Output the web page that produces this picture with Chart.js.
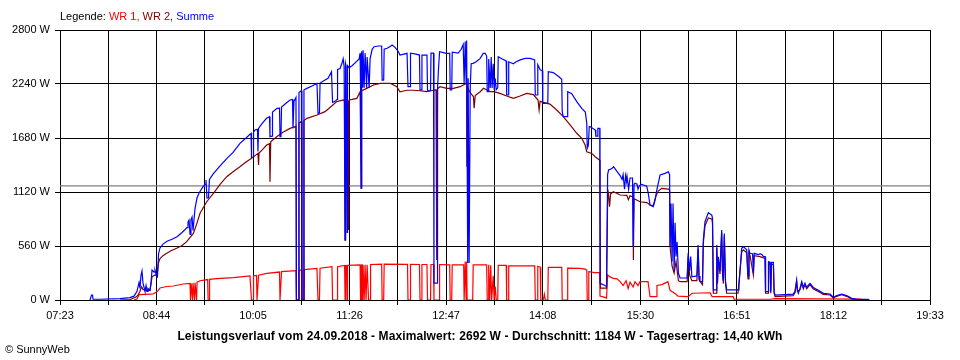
<!DOCTYPE html>
<html>
<head>
<meta charset="utf-8">
<script src="https://cdn.jsdelivr.net/npm/chart.js@4.4.0/dist/chart.umd.min.js"></script>
<style>
  body { margin: 0; background: #fff; }
  #wrap { position: relative; width: 960px; height: 360px; font-family: "Liberation Sans", Arial, sans-serif; font-size: 11px; color: #000; }
  #chart { position: absolute; left: 0; top: 0; }
  #legend { position: absolute; left: 60px; top: 10px; line-height: 13px; }
  #title { position: absolute; left: 0; width: 960px; top: 329px; text-align: center; font-weight: bold; font-size: 12px; letter-spacing: 0.09px; line-height: 14px; }
  #copy { position: absolute; left: 5px; top: 343px; line-height: 13px; }
</style>
</head>
<body>
<div id="wrap">
  <canvas id="chart" width="960" height="360"></canvas>
  <div id="legend">Legende: <span style="color:#ff0000">WR 1,</span> <span style="color:#800000">WR 2,</span> <span style="color:#0000ff">Summe</span></div>
  <div id="title">Leistungsverlauf vom 24.09.2018 - Maximalwert: 2692 W - Durchschnitt: 1184 W - Tagesertrag: 14,40 kWh</div>
  <div id="copy">© SunnyWeb</div>
</div>
<script>
// time = minutes since midnight, value = watts
const xLabels = ['07:23', '08:44', '10:05', '11:26', '12:47', '14:08', '15:30', '16:51', '18:12', '19:33']
const yTicks = [0, 560, 1120, 1680, 2240, 2800]
const avgWatt = 1184

const summe = [[468.2,0],[469.4,50],[470.3,50],[470.7,8],[476.6,8],[493.3,14],[501.7,25],[505.1,40],[507.6,90],[509.3,180],[510.1,120],[510.9,250],[511.8,300],[512.6,180],[513.5,130],[514.3,90],[515.2,150],[516.0,90],[516.8,120],[518.5,100],[519.4,180],[520.2,310],[521.9,290],[522.7,310],[524.0,250],[524.8,240],[525.7,480],[526.9,540],[529.4,580],[532.8,610],[537.0,630],[541.2,656],[545.4,700],[549.6,750],[550.4,810],[551.3,830],[552.1,680],[552.9,830],[553.8,860],[554.6,720],[556.3,950],[558.0,1060],[559.7,1110],[563.0,1175],[564.7,1200],[565.5,1245],[566.3,1058],[567.6,1060],[568.4,1250],[571.4,1306],[577.3,1390],[583.1,1469],[588.2,1530],[594.0,1625],[599.1,1680],[603.3,1728],[603.7,1480],[605.0,1480],[605.4,1740],[606.6,1763],[608.7,1770],[609.1,1540],[609.6,1780],[612.5,1830],[616.3,1884],[618.8,1900],[619.2,1694],[620.9,1700],[621.3,1950],[625.1,1988],[627.2,1990],[627.6,1694],[628.4,1700],[628.9,2000],[632.6,2040],[636.0,2074],[638.1,2080],[638.5,1780],[639.3,2060],[641.0,2100],[641.4,0],[643.1,0],[643.5,2150],[644.4,2160],[645.6,2170],[646.0,0],[647.3,0],[647.7,2180],[650.2,2195],[654.4,2220],[658.6,2246],[659.5,1936],[660.7,1940],[661.2,2250],[665.4,2281],[667.9,2300],[670.8,2368],[671.7,2050],[673.8,2060],[675.5,2080],[675.9,2390],[678.0,2400],[679.7,2460],[680.6,2500],[681.4,2420],[682.2,620],[682.6,2450],[683.1,2420],[683.9,700],[684.3,2430],[685.6,2410],[688.1,2430],[691.5,2470],[694.0,2500],[694.8,2560],[695.2,2190],[695.7,1160],[696.1,2580],[696.9,2200],[697.3,2590],[698.2,2200],[699.0,2560],[700.3,2200],[700.7,2520],[702.4,2200],[703.2,2500],[704.9,2600],[706.6,2627],[710.0,2634],[712.9,2634],[713.3,2280],[714.6,2280],[715.0,2600],[717.5,2610],[720.0,2630],[721.7,2644],[724.1,2620],[726.7,2580],[728.3,2540],[731.6,2550],[734.2,2558],[735.0,2212],[736.7,2212],[737.1,2560],[741.7,2550],[744.6,2540],[745.1,2180],[746.3,2180],[746.7,2540],[750.9,2540],[751.4,2170],[753.9,2170],[754.3,2560],[756.4,2560],[756.8,176],[759.4,176],[759.8,2190],[760.6,2400],[761.5,2575],[767.0,2558],[770.0,2558],[770.4,2180],[771.7,2180],[772.1,2570],[777.1,2560],[779.6,2600],[781.3,2650],[782.1,2250],[783.0,2680],[783.8,2250],[784.2,2692],[785.1,383],[785.5,2300],[786.3,383],[787.2,2200],[788.0,2450],[789.7,2454],[792.2,2470],[795.6,2506],[798.1,2558],[799.8,2558],[801.0,2530],[801.5,2160],[802.3,2160],[802.7,2500],[804.0,2200],[804.8,2520],[805.6,2200],[806.5,2450],[807.3,2180],[808.2,2300],[809.0,2180],[810.3,2200],[810.7,2523],[814.1,2500],[817.4,2480],[817.8,2126],[819.1,2126],[819.5,2470],[823.3,2450],[825.8,2470],[829.2,2490],[833.4,2506],[837.6,2506],[841.3,2490],[841.8,2126],[843.4,2126],[843.9,2440],[846.0,2385],[847.7,2380],[848.1,2040],[852.3,2040],[852.7,2368],[856.9,2358],[861.1,2320],[864.0,2288],[864.4,1953],[865.3,1901],[868.6,1901],[869.0,2160],[872.4,2140],[876.6,2057],[880.8,1988],[883.8,1950],[885.0,1832],[885.4,1573],[886.3,1600],[887.1,1800],[888.0,1797],[892.2,1763],[892.6,1700],[893.8,1700],[894.3,1780],[895.9,1780],[896.1,173],[898.7,160],[901.6,140],[902.5,1300],[903.3,1348],[905.8,1360],[907.5,1382],[910.0,1340],[913.0,1290],[914.6,1250],[915.5,1300],[916.7,1150],[917.6,1290],[918.4,1230],[918.8,1280],[920.1,1150],[921.3,1265],[923.4,1265],[923.9,553],[924.7,1200],[925.5,1210],[927.2,1200],[928.0,1150],[928.9,1180],[930.5,1200],[932.5,1193],[935.3,1180],[936.4,1120],[938.1,985],[940.8,968],[942.3,1037],[943.9,1150],[945.0,1210],[946.5,1296],[950.6,1313],[953.4,1330],[954.5,1300],[954.9,553],[955.7,1000],[956.6,400],[957.4,1000],[958.3,300],[959.1,800],[959.9,450],[960.8,600],[961.9,277],[963.3,228],[969.2,228],[970.1,487],[971.3,300],[972.2,450],[973.2,240],[977.4,250],[978.4,570],[979.2,250],[980.0,190],[982.1,190],[982.8,622],[984.2,812],[987.0,906],[989.9,880],[990.5,850],[991.2,104],[993.5,104],[994.1,570],[994.7,200],[995.4,449],[996.8,300],[998.2,726],[998.9,300],[999.6,200],[1000.4,690],[1001.4,200],[1002.4,104],[1011.9,104],[1012.7,150],[1015.0,536],[1016.4,553],[1019.2,520],[1020.3,250],[1021.1,520],[1022.0,484],[1024.1,480],[1024.8,280],[1025.5,484],[1029.0,470],[1030.4,480],[1032.1,470],[1033.2,450],[1034.6,450],[1035.0,86],[1037.1,86],[1037.5,397],[1038.8,390],[1039.4,86],[1040.0,390],[1041.6,390],[1042.2,86],[1043.0,50],[1051.4,55],[1058.1,60],[1059.7,86],[1061.1,207],[1061.8,100],[1062.5,70],[1063.9,120],[1065.4,190],[1066.7,130],[1068.1,175],[1069.5,130],[1070.6,150],[1072.3,173],[1075.1,130],[1079.3,100],[1083.5,69],[1089.1,62],[1091.9,28],[1094.7,45],[1098.9,62],[1103.1,45],[1107.3,17],[1111.5,7],[1121.2,7],[1121.8,0]]

const wr2 = [[493.3,0],[501.7,5],[506.8,30],[508.4,50],[510.1,90],[511.5,138],[512.6,110],[515.2,95],[518.5,100],[520.2,240],[522.7,260],[524.4,250],[525.5,380],[526.9,430],[529.4,460],[532.5,484],[536.2,510],[540.9,536],[545.4,565],[549.3,605],[554.9,690],[558.0,800],[560.5,900],[566.1,1019],[571.7,1106],[577.3,1200],[582.9,1279],[588.2,1330],[594.0,1382],[599.1,1430],[603.8,1469],[609.1,1521],[609.6,1400],[610.0,1525],[612.9,1560],[616.4,1607],[618.8,1620],[619.2,1227],[619.8,1640],[624.8,1693],[630.1,1740],[636.0,1780],[641.0,1800],[641.4,0],[643.1,0],[643.5,1840],[645.6,1850],[646.0,0],[647.3,0],[647.7,1860],[650.2,1884],[658.6,1918],[665.4,1953],[671.0,2012],[675.2,2057],[680.8,2074],[681.8,2060],[682.2,622],[682.6,2070],[684.7,2060],[685.0,726],[685.6,2074],[688.1,2080],[692.1,2091],[694.8,2160],[695.7,1160],[696.1,2170],[700.4,2195],[706.0,2230],[711.6,2247],[720.0,2247],[725.6,2212],[728.3,2160],[734.0,2175],[739.5,2175],[745.1,2170],[750.7,2160],[756.3,2175],[758.5,2180],[759.1,415],[759.8,2190],[761.9,2212],[767.5,2195],[773.1,2195],[778.7,2212],[784.2,2247],[784.4,1382],[785.1,2200],[787.2,2150],[789.9,2108],[790.5,1990],[791.4,2120],[795.6,2160],[798.4,2195],[804.0,2160],[806.8,2160],[812.2,2143],[817.8,2115],[823.4,2091],[829.0,2115],[834.6,2143],[840.2,2130],[844.1,2074],[845.0,1970],[845.8,2060],[848.6,2050],[854.1,2032],[859.8,1970],[865.3,1901],[871.0,1815],[876.6,1729],[880.8,1677],[883.6,1607],[885.0,1538],[889.2,1520],[892.0,1486],[894.8,1460],[895.9,1450],[896.1,1244],[896.5,124],[901.6,124],[902.5,1050],[903.2,1106],[904.1,968],[905.0,1100],[907.3,1123],[913.0,1089],[918.6,1085],[919.9,1040],[921.3,1080],[923.9,1070],[924.1,415],[924.7,1050],[929.7,1019],[935.3,1010],[938.1,985],[940.8,980],[943.1,1080],[945.0,1130],[947.9,1158],[953.4,1150],[954.5,1140],[954.9,550],[956.6,350],[958.3,280],[959.9,400],[961.9,200],[963.3,190],[969.2,190],[970.1,450],[971.3,260],[973.2,200],[977.4,200],[978.4,530],[979.2,210],[982.1,160],[982.8,590],[984.2,770],[987.0,850],[989.9,840],[990.5,800],[991.2,70],[993.5,70],[994.1,540],[994.7,170],[995.4,420],[996.8,270],[998.2,700],[998.9,270],[999.6,170],[1000.4,660],[1001.4,170],[1002.4,70],[1011.9,70],[1015.0,500],[1016.4,520],[1019.2,490],[1020.3,220],[1021.1,490],[1022.0,460],[1024.8,260],[1025.5,460],[1030.4,450],[1034.6,430],[1035.0,70],[1037.1,70],[1037.5,380],[1038.8,370],[1039.4,70],[1040.0,370],[1041.6,370],[1042.2,70],[1043.0,35],[1058.1,45],[1059.7,75],[1061.1,190],[1061.8,90],[1063.9,105],[1065.4,175],[1066.7,115],[1068.1,160],[1069.5,115],[1072.3,160],[1075.1,115],[1079.3,88],[1083.5,58],[1089.1,52],[1091.9,20],[1094.7,38],[1098.9,54],[1103.1,38],[1107.3,12],[1111.5,4],[1119.3,2],[1120.1,0]]

const wr1 = [[505.1,0],[507.6,10],[509.3,55],[518.5,60],[521.1,62],[523.6,80],[525.5,100],[526.9,125],[532.5,140],[538.2,145],[546.5,166],[552.1,172],[552.5,0],[553.0,172],[554.2,0],[554.6,175],[555.9,0],[556.3,180],[557.6,0],[558.0,185],[560.5,200],[566.9,212],[567.3,0],[568.1,0],[568.5,214],[574.5,222],[588.4,232],[602.4,250],[603.7,0],[605.0,0],[605.4,252],[607.9,255],[608.3,0],[609.1,0],[609.6,258],[616.6,277],[627.2,290],[627.6,0],[628.4,0],[628.9,295],[641.0,305],[641.4,0],[643.1,0],[643.5,310],[645.6,311],[646.0,0],[647.7,0],[648.1,315],[658.6,328],[659.5,0],[660.7,0],[661.2,330],[671.2,345],[671.7,0],[675.5,0],[675.9,346],[681.8,358],[682.2,0],[682.6,358],[683.5,358],[683.9,0],[684.3,360],[694.8,365],[695.2,0],[695.7,0],[696.1,365],[696.5,365],[696.9,0],[697.3,365],[698.2,0],[699.0,365],[699.8,0],[700.7,365],[701.9,0],[703.2,0],[703.6,368],[712.9,372],[713.3,0],[714.6,0],[715.0,372],[734.6,370],[735.0,0],[736.7,0],[737.1,370],[744.6,368],[745.1,0],[746.3,0],[746.7,368],[750.9,368],[751.4,0],[753.9,0],[754.3,368],[756.4,368],[756.8,0],[761.1,0],[761.5,368],[770.0,365],[770.4,0],[771.7,0],[772.1,365],[781.7,365],[782.1,0],[783.0,400],[783.8,0],[784.2,400],[784.6,0],[789.3,0],[789.7,365],[801.0,365],[801.5,0],[802.3,0],[802.7,365],[803.6,0],[804.4,360],[805.2,0],[806.5,250],[807.3,0],[808.2,140],[809.0,0],[810.3,0],[810.7,360],[817.4,360],[817.8,0],[819.1,0],[819.5,353],[841.3,355],[841.8,0],[843.4,0],[843.9,350],[846.0,340],[846.4,0],[848.5,0],[849.4,60],[850.2,0],[852.3,0],[852.7,339],[864.0,339],[864.4,0],[868.6,0],[869.0,330],[879.5,328],[883.6,320],[885.0,310],[885.4,0],[886.3,0],[886.7,294],[889.6,290],[890.8,283],[895.9,283],[896.1,40],[899.5,30],[901.6,20],[902.5,260],[904.6,240],[907.3,225],[910.4,220],[913.0,190],[915.5,150],[918.0,200],[919.7,120],[921.3,185],[923.9,135],[925.5,190],[928.0,150],[929.7,190],[932.2,190],[936.4,190],[938.1,35],[943.5,35],[943.9,150],[948.1,160],[950.6,175],[953.1,190],[954.9,100],[957.4,80],[959.9,60],[961.6,40],[970.1,35],[973.4,70],[988.5,75],[990.2,35],[1007.8,35],[1008.6,10],[1038.8,8],[1043.0,15],[1114.3,10],[1118.5,0]]

const toMin = (s) => parseInt(s.slice(0, 2)) * 60 + parseInt(s.slice(3))
const toPoints = (arr) => arr.map(p => ({ x: p[0], y: p[1] }))

// major ticks at the labels, one unlabeled grid line halfway between
const labelMins = xLabels.map(toMin)
let xTickMins = []
labelMins.forEach((m, i) => {
    xTickMins.push(m)
    if (i < labelMins.length - 1) xTickMins.push((m + labelMins[i + 1]) / 2)
})
const startMin = labelMins[0]
const endMin = labelMins[labelMins.length - 1]

Chart.defaults.font.family = '"Liberation Sans", Arial, sans-serif'
Chart.defaults.font.size = 11
Chart.defaults.color = '#000'

const ctx = document.querySelector('#chart').getContext('2d')
new Chart(ctx, {
    type: 'line',
    data: {
        datasets: [
            { label: 'Summe', data: toPoints(summe), borderColor: '#0000ff', order: 1 },
            { label: 'WR 2', data: toPoints(wr2), borderColor: '#800000', order: 2 },
            { label: 'WR 1', data: toPoints(wr1), borderColor: '#ff0000', order: 3 },
            { label: 'Durchschnitt', data: [{ x: startMin, y: avgWatt }, { x: endMin, y: avgWatt }], borderColor: '#808080', order: 4 }
        ]
    },
    options: {
        responsive: false,
        animation: false,
        devicePixelRatio: 1,
        layout: { padding: { left: 0, right: 30, top: 30, bottom: 0 } },
        elements: {
            point: { radius: 0 },
            line: { borderWidth: 1.2, tension: 0 }
        },
        plugins: {
            legend: { display: false },
            tooltip: { enabled: false }
        },
        scales: {
            x: {
                type: 'linear',
                min: startMin,
                max: endMin,
                afterBuildTicks: (scale) => { scale.ticks = xTickMins.map(v => ({ value: v })) },
                afterFit: (scale) => { scale.height = 60 },
                ticks: {
                    autoSkip: false,
                    maxRotation: 0,
                    padding: 4,
                    callback: (v) => {
                        const i = labelMins.indexOf(v)
                        return i >= 0 ? xLabels[i] : ''
                    }
                },
                grid: { color: '#000', lineWidth: 1, tickLength: 5 },
                border: { color: '#000' }
            },
            y: {
                min: 0,
                max: 2800,
                afterBuildTicks: (scale) => { scale.ticks = yTicks.map(v => ({ value: v })) },
                afterFit: (scale) => { scale.width = 60 },
                ticks: {
                    padding: 5,
                    callback: (v) => v + ' W'
                },
                grid: { color: '#000', lineWidth: 1, tickLength: 5 },
                border: { color: '#000' }
            }
        }
    }
})
</script>
</body>
</html>
